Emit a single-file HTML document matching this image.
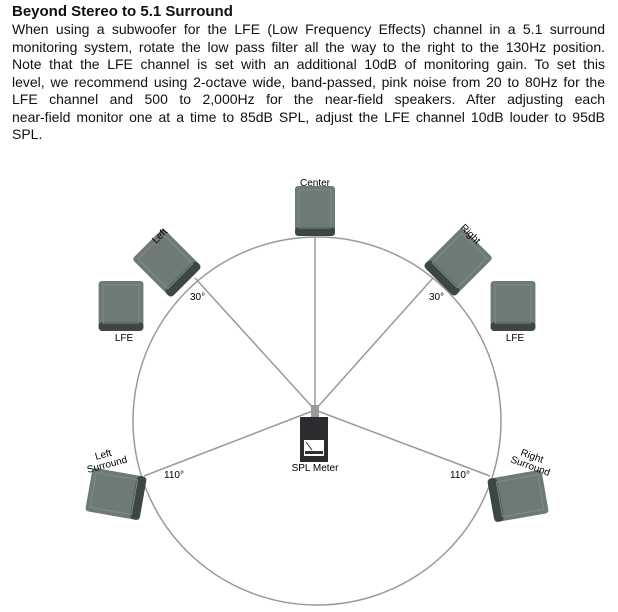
<!DOCTYPE html>
<html><head><style>
body{margin:0;width:618px;height:612px;background:#fff;overflow:hidden;font-family:"Liberation Sans",sans-serif;}
h1{position:absolute;left:12px;top:3px;margin:0;font-size:15px;font-weight:bold;color:#111;}
.p{position:absolute;left:12px;top:21px;width:593px;margin:0;font-size:14px;line-height:17.5px;color:#111;}
.p div{text-align:justify;text-align-last:justify;white-space:nowrap;}
.p div.l{text-align-last:left;}
svg{position:absolute;left:0;top:0;}
</style></head><body>
<h1>Beyond Stereo to 5.1 Surround</h1>
<div class="p">
<div>When using a subwoofer for the LFE (Low Frequency Effects) channel in a 5.1 surround</div>
<div>monitoring system, rotate the low pass filter all the way to the right to the 130Hz position.</div>
<div>Note that the LFE channel is set with an additional 10dB of monitoring gain. To set this</div>
<div>level, we recommend using 2-octave wide, band-passed, pink noise from 20 to 80Hz for the</div>
<div>LFE channel and 500 to 2,000Hz for the near-field speakers. After adjusting each</div>
<div>near-field monitor one at a time to 85dB SPL, adjust the LFE channel 10dB louder to 95dB</div>
<div class="l">SPL.</div>
</div>
<svg width="618" height="612" font-family="Liberation Sans, sans-serif" font-size="10">
<defs>
<g id="spk"><rect x="-20" y="-25" width="40" height="50" rx="3" fill="#6e7a78"/><rect x="-20" y="16" width="40" height="9" rx="4" fill="#3e4645"/><rect x="-16" y="-21" width="32" height="38" fill="none" stroke="#7f8a88" stroke-width="1"/></g>
</defs>
<circle cx="317" cy="421" r="184" fill="none" stroke="#999" stroke-width="1.5"/>
<g stroke="#999" stroke-width="1.5">
<line x1="315" y1="410" x2="315" y2="237"/>
<line x1="315" y1="410" x2="195" y2="278"/>
<line x1="315" y1="410" x2="433" y2="278"/>
<line x1="315" y1="410" x2="144" y2="476"/>
<line x1="315" y1="410" x2="490" y2="476"/>
</g>
<use href="#spk" transform="translate(315,211)"/>
<use href="#spk" transform="translate(167,263) rotate(-45) scale(1.1)"/>
<use href="#spk" transform="translate(458,262) rotate(45) scale(1.1)"/>
<use href="#spk" transform="translate(121,306) scale(1.12,1)"/>
<use href="#spk" transform="translate(513,306) scale(1.12,1)"/>
<use href="#spk" transform="translate(116,494) rotate(-80) scale(1.1)"/>
<use href="#spk" transform="translate(518,496) rotate(80) scale(1.1)"/>
<rect x="311" y="405" width="8" height="13" fill="#999"/>
<rect x="300" y="417" width="28" height="45" fill="#2a2c30"/>
<rect x="304" y="440" width="20" height="16" fill="#fff"/>
<line x1="306" y1="442" x2="312" y2="450" stroke="#333"/>
<rect x="305" y="451" width="18" height="3" fill="#333"/>
<text x="315" y="186" text-anchor="middle">Center</text>
<text x="0" y="0" transform="translate(156,244) rotate(-45)">Left</text>
<text x="0" y="0" transform="translate(460,228) rotate(45)">Right</text>
<text x="124" y="341" text-anchor="middle">LFE</text>
<text x="515" y="341" text-anchor="middle">LFE</text>
<text x="190" y="300">30°</text>
<text x="429" y="300">30°</text>
<text x="164" y="478">110°</text>
<text x="450" y="478">110°</text>
<text x="315" y="471" text-anchor="middle">SPL Meter</text>
<text transform="translate(96,460) rotate(-15)">Left</text>
<text transform="translate(88,473) rotate(-15)">Surround</text>
<text transform="translate(520,455) rotate(20)">Right</text>
<text transform="translate(510,462) rotate(20)">Surround</text>
</svg>
</body></html>
